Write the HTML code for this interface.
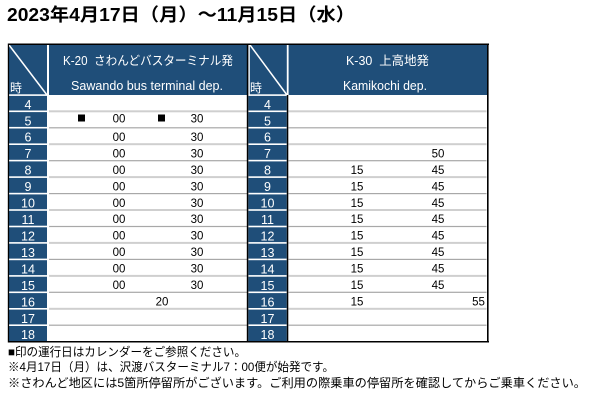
<!DOCTYPE html>
<html><head><meta charset="utf-8"><style>
html,body{margin:0;padding:0;background:#fff;}
svg{display:block;}
text{font-family:"Liberation Sans","Noto Sans CJK JP",sans-serif;}
</style></head><body>
<svg width="600" height="401" viewBox="0 0 600 401" xmlns="http://www.w3.org/2000/svg">
<rect x="0" y="0" width="600" height="401" fill="#fff"/>
<!-- Title -->
<text x="7" y="21" font-size="18" font-weight="bold" fill="#000" textLength="348" lengthAdjust="spacingAndGlyphs">2023年4月17日（月）～11月15日（水）</text>

<!-- header background -->
<rect x="8" y="44" width="480" height="51" fill="#1f4e79"/>
<!-- data area white -->
<rect x="49" y="95" width="198" height="247" fill="#fff"/>
<rect x="288.5" y="95" width="198.5" height="247" fill="#fff"/>

<!-- hour columns -->
<rect x="9" y="95" width="38" height="247" fill="#1f4e79"/>
<rect x="248.3" y="95" width="38.5" height="247" fill="#1f4e79"/>

<!-- data row separators -->
<g>
<rect x="49" y="110.3" width="198" height="2" fill="#cfcfcf"/><rect x="288.5" y="110.3" width="198" height="2" fill="#cfcfcf"/>
<rect x="49" y="127.2" width="198" height="1.2" fill="#a8a8a8"/><rect x="288.5" y="127.2" width="198" height="1.2" fill="#a8a8a8"/>
<rect x="49" y="143.2" width="198" height="2" fill="#cfcfcf"/><rect x="288.5" y="143.2" width="198" height="2" fill="#cfcfcf"/>
<rect x="49" y="160.1" width="198" height="1.2" fill="#a8a8a8"/><rect x="288.5" y="160.1" width="198" height="1.2" fill="#a8a8a8"/>
<rect x="49" y="176.1" width="198" height="2" fill="#cfcfcf"/><rect x="288.5" y="176.1" width="198" height="2" fill="#cfcfcf"/>
<rect x="49" y="193" width="198" height="1.2" fill="#a8a8a8"/><rect x="288.5" y="193" width="198" height="1.2" fill="#a8a8a8"/>
<rect x="49" y="209" width="198" height="2" fill="#cfcfcf"/><rect x="288.5" y="209" width="198" height="2" fill="#cfcfcf"/>
<rect x="49" y="225.9" width="198" height="1.2" fill="#a8a8a8"/><rect x="288.5" y="225.9" width="198" height="1.2" fill="#a8a8a8"/>
<rect x="49" y="241.9" width="198" height="2" fill="#cfcfcf"/><rect x="288.5" y="241.9" width="198" height="2" fill="#cfcfcf"/>
<rect x="49" y="258.8" width="198" height="1.2" fill="#a8a8a8"/><rect x="288.5" y="258.8" width="198" height="1.2" fill="#a8a8a8"/>
<rect x="49" y="274.9" width="198" height="2" fill="#cfcfcf"/><rect x="288.5" y="274.9" width="198" height="2" fill="#cfcfcf"/>
<rect x="49" y="291.7" width="198" height="1.2" fill="#a8a8a8"/><rect x="288.5" y="291.7" width="198" height="1.2" fill="#a8a8a8"/>
<rect x="49" y="307.8" width="198" height="2" fill="#cfcfcf"/><rect x="288.5" y="307.8" width="198" height="2" fill="#cfcfcf"/>
<rect x="49" y="324.6" width="198" height="1.2" fill="#a8a8a8"/><rect x="288.5" y="324.6" width="198" height="1.2" fill="#a8a8a8"/>
</g>

<!-- hour column white separators -->
<g fill="#fff">
<rect x="9" y="94.3" width="38" height="1.6"/><rect x="248.3" y="94.3" width="38.5" height="1.6"/>
<rect x="9" y="110.5" width="38" height="1.6"/><rect x="248.3" y="110.5" width="38.5" height="1.6"/>
<rect x="9" y="126.9" width="38" height="1.6"/><rect x="248.3" y="126.9" width="38.5" height="1.6"/>
<rect x="9" y="143.4" width="38" height="1.6"/><rect x="248.3" y="143.4" width="38.5" height="1.6"/>
<rect x="9" y="159.8" width="38" height="1.6"/><rect x="248.3" y="159.8" width="38.5" height="1.6"/>
<rect x="9" y="176.3" width="38" height="1.6"/><rect x="248.3" y="176.3" width="38.5" height="1.6"/>
<rect x="9" y="192.8" width="38" height="1.6"/><rect x="248.3" y="192.8" width="38.5" height="1.6"/>
<rect x="9" y="209.2" width="38" height="1.6"/><rect x="248.3" y="209.2" width="38.5" height="1.6"/>
<rect x="9" y="225.7" width="38" height="1.6"/><rect x="248.3" y="225.7" width="38.5" height="1.6"/>
<rect x="9" y="242.1" width="38" height="1.6"/><rect x="248.3" y="242.1" width="38.5" height="1.6"/>
<rect x="9" y="258.6" width="38" height="1.6"/><rect x="248.3" y="258.6" width="38.5" height="1.6"/>
<rect x="9" y="275.1" width="38" height="1.6"/><rect x="248.3" y="275.1" width="38.5" height="1.6"/>
<rect x="9" y="291.5" width="38" height="1.6"/><rect x="248.3" y="291.5" width="38.5" height="1.6"/>
<rect x="9" y="308" width="38" height="1.6"/><rect x="248.3" y="308" width="38.5" height="1.6"/>
<rect x="9" y="324.4" width="38" height="1.6"/><rect x="248.3" y="324.4" width="38.5" height="1.6"/>
<rect x="47" y="44" width="2" height="298"/>
<rect x="286.8" y="44" width="1.8" height="51"/>
<rect x="248.3" y="44" width="1.5" height="51"/>
</g>

<!-- diagonals -->
<line x1="9" y1="45" x2="47" y2="95" stroke="#fff" stroke-width="1.5"/>
<line x1="250" y1="45" x2="287" y2="95" stroke="#fff" stroke-width="1.5"/>

<!-- black borders -->
<rect x="8" y="43.5" width="481" height="1.5" fill="#000"/>
<rect x="8" y="341" width="481" height="1.5" fill="#000"/>
<rect x="7.8" y="43.5" width="1.3" height="299" fill="#000"/>
<rect x="487" y="43.5" width="1.6" height="299" fill="#000"/>
<rect x="246.8" y="43.5" width="1.5" height="299" fill="#000"/>
<rect x="286.8" y="95" width="1.5" height="247" fill="#000"/>

<!-- header texts -->
<g fill="#fff" font-size="12.5">
<text x="10" y="92" font-size="12">時</text>
<text x="250" y="92" font-size="12">時</text>
<text x="63" y="65" textLength="170" lengthAdjust="spacingAndGlyphs">K-20&#160;&#160;さわんどバスターミナル発</text>
<text x="71" y="90" textLength="152" lengthAdjust="spacingAndGlyphs">Sawando bus terminal dep.</text>
<text x="346" y="65" textLength="83" lengthAdjust="spacingAndGlyphs">K-30&#160;&#160;上高地発</text>
<text x="343" y="90" textLength="84" lengthAdjust="spacingAndGlyphs">Kamikochi dep.</text>
</g>

<!-- hour labels -->
<g fill="#fff" font-size="12.5" text-anchor="middle">
<text x="28" y="108.8">4</text><text x="267.5" y="108.8">4</text>
<text x="28" y="125.3">5</text><text x="267.5" y="125.3">5</text>
<text x="28" y="141.7">6</text><text x="267.5" y="141.7">6</text>
<text x="28" y="158.2">7</text><text x="267.5" y="158.2">7</text>
<text x="28" y="174.6">8</text><text x="267.5" y="174.6">8</text>
<text x="28" y="191.1">9</text><text x="267.5" y="191.1">9</text>
<text x="28" y="207.6">10</text><text x="267.5" y="207.6">10</text>
<text x="28" y="224">11</text><text x="267.5" y="224">11</text>
<text x="28" y="240.5">12</text><text x="267.5" y="240.5">12</text>
<text x="28" y="256.9">13</text><text x="267.5" y="256.9">13</text>
<text x="28" y="273.4">14</text><text x="267.5" y="273.4">14</text>
<text x="28" y="289.9">15</text><text x="267.5" y="289.9">15</text>
<text x="28" y="306.3">16</text><text x="267.5" y="306.3">16</text>
<text x="28" y="322.8">17</text><text x="267.5" y="322.8">17</text>
<text x="28" y="339.2">18</text><text x="267.5" y="339.2">18</text>
</g>

<!-- squares -->
<rect x="78" y="114.5" width="7" height="7" fill="#000"/>
<rect x="158" y="114.5" width="7" height="7" fill="#000"/>

<!-- data -->
<g fill="#000" font-size="11.5" text-anchor="middle">
<text x="119" y="122.5">00</text><text x="197" y="122.5">30</text>
<text x="119" y="140.9">00</text><text x="197" y="140.9">30</text>
<text x="119" y="157.4">00</text><text x="197" y="157.4">30</text><text x="438" y="157.4">50</text>
<text x="119" y="173.8">00</text><text x="197" y="173.8">30</text><text x="357" y="173.8">15</text><text x="438" y="173.8">45</text>
<text x="119" y="190.3">00</text><text x="197" y="190.3">30</text><text x="357" y="190.3">15</text><text x="438" y="190.3">45</text>
<text x="119" y="206.8">00</text><text x="197" y="206.8">30</text><text x="357" y="206.8">15</text><text x="438" y="206.8">45</text>
<text x="119" y="223.2">00</text><text x="197" y="223.2">30</text><text x="357" y="223.2">15</text><text x="438" y="223.2">45</text>
<text x="119" y="239.7">00</text><text x="197" y="239.7">30</text><text x="357" y="239.7">15</text><text x="438" y="239.7">45</text>
<text x="119" y="256.1">00</text><text x="197" y="256.1">30</text><text x="357" y="256.1">15</text><text x="438" y="256.1">45</text>
<text x="119" y="272.6">00</text><text x="197" y="272.6">30</text><text x="357" y="272.6">15</text><text x="438" y="272.6">45</text>
<text x="119" y="289.1">00</text><text x="197" y="289.1">30</text><text x="357" y="289.1">15</text><text x="438" y="289.1">45</text>
<text x="162" y="305.5">20</text><text x="357" y="305.5">15</text><text x="478.5" y="305.5">55</text>
</g>

<!-- notes -->
<g fill="#000" font-size="12">
<text x="8" y="356" textLength="238" lengthAdjust="spacingAndGlyphs">■印の運行日はカレンダーをご参照ください。</text>
<text x="8" y="371" textLength="326" lengthAdjust="spacingAndGlyphs">※4月17日（月）は、沢渡バスターミナル7：00便が始発です。</text>
<text x="8" y="387" textLength="578" lengthAdjust="spacingAndGlyphs">※さわんど地区には5箇所停留所がございます。ご利用の際乗車の停留所を確認してからご乗車ください。</text>
</g>
</svg>
</body></html>
